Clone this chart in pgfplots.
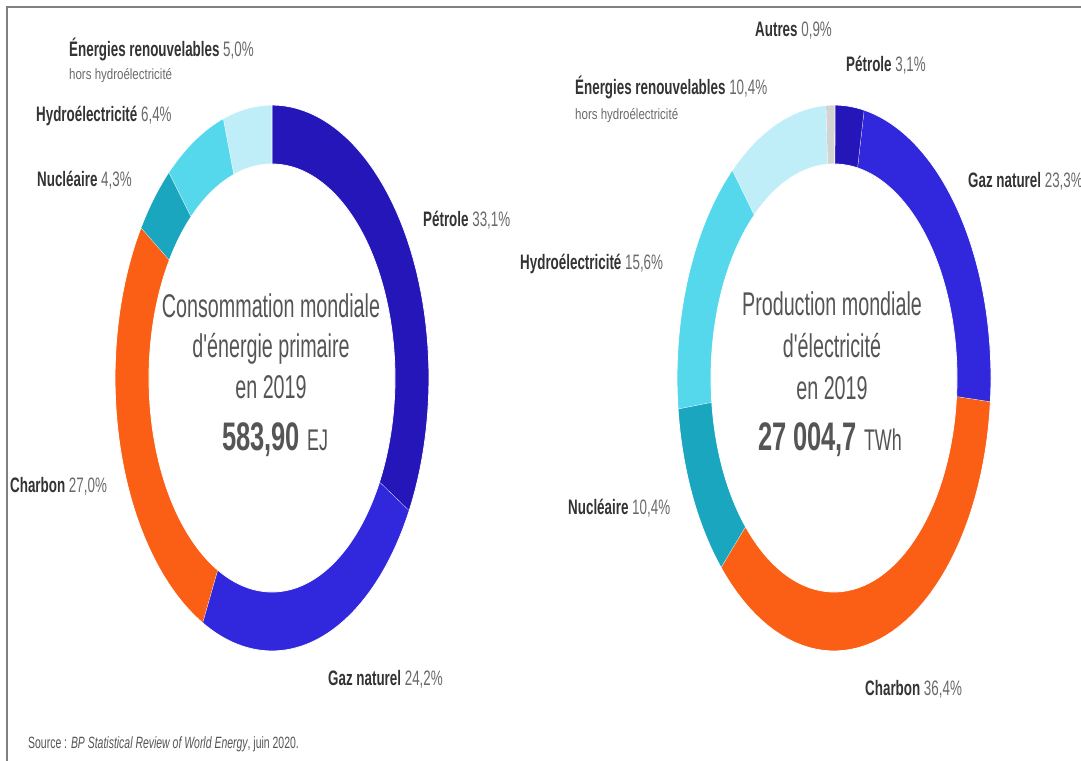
\documentclass[border=0pt]{standalone}
\usepackage{pgfplots}
\pgfplotsset{compat=1.18}
\usepackage{fontspec}
\setmainfont{Liberation Sans}[FakeStretch=0.64]
\newfontfamily\ctrfont{Liberation Sans}[FakeStretch=0.6]
\newfontfamily\smallfont{Liberation Sans}[FakeStretch=0.77]

\definecolor{cPet}{HTML}{2416B8}
\definecolor{cGaz}{HTML}{3127DD}
\definecolor{cCha}{HTML}{FA5F15}
\definecolor{cNuc}{HTML}{1BA6BF}
\definecolor{cHyd}{HTML}{55D8EC}
\definecolor{cRen}{HTML}{BFEEF8}
\definecolor{cAut}{HTML}{D3D3D3}
\definecolor{tName}{HTML}{333333}
\definecolor{tVal}{HTML}{6A6A6A}
\definecolor{tCtr}{HTML}{555555}
\definecolor{frame}{HTML}{808080}

% ring segment: centre x, centre y, cumulative start (%), share (%), colour
\newcommand\seg[5]{%
\addplot[fill=#5, draw=white, line width=0.8pt, line join=round,
  samples at={0,1,...,101}, variable=\t]
 ({#1 + (\t<50.5 ? 157 : 123)*sin(3.6*(#3 + #4*(\t<50.5 ? \t/50 : (101-\t)/50)))},
  {#2 - (\t<50.5 ? 273 : 214)*cos(3.6*(#3 + #4*(\t<50.5 ? \t/50 : (101-\t)/50)))});
}
\newcommand\lab[4]{\node[anchor=base west, inner sep=0pt,
  font=\fontsize{21}{21}\selectfont] at (axis cs:#1,#2)
  {\textbf{\color{tName}#3} {\color{tVal}#4}};}
\newcommand\sub[2]{\node[anchor=base west, inner sep=0pt,
  font=\smallfont\fontsize{15}{15}\selectfont, text=tVal] at (axis cs:#1,#2)
  {hors hydroélectricité};}
\newcommand\ctr[3]{\node[anchor=base, inner sep=0pt,
  font=\ctrfont\fontsize{33}{33}\selectfont, text=tCtr] at (axis cs:#1,#2) {#3};}

\begin{document}
\begin{tikzpicture}
\begin{axis}[
  width=1081bp, height=761bp, scale only axis,
  xmin=0, xmax=1081, ymin=0, ymax=761, y dir=reverse,
  hide axis, clip=false]

% Consommation mondiale d'énergie primaire 2019 (%)
\seg{272}{378}{0}{33.1}{cPet}
\seg{272}{378}{33.1}{24.2}{cGaz}
\seg{272}{378}{57.3}{27.0}{cCha}
\seg{272}{378}{84.3}{4.3}{cNuc}
\seg{272}{378}{88.6}{6.4}{cHyd}
\seg{272}{378}{95.0}{5.0}{cRen}

% Production mondiale d'électricité 2019 (%)
\seg{834}{378}{0}{3.1}{cPet}
\seg{834}{378}{3.1}{23.3}{cGaz}
\seg{834}{378}{26.4}{36.4}{cCha}
\seg{834}{378}{62.8}{10.4}{cNuc}
\seg{834}{378}{73.2}{15.6}{cHyd}
\seg{834}{378}{88.8}{10.4}{cRen}
\seg{834}{378}{99.2}{0.9}{cAut}

% labels left
\lab{69}{57}{Énergies renouvelables}{5,0\%}
\sub{69}{80}
\lab{36}{122}{Hydroélectricité}{6,4\%}
\lab{37}{187}{Nucléaire}{4,3\%}
\lab{423}{226}{Pétrole}{33,1\%}
\lab{10}{492}{Charbon}{27,0\%}
\lab{328}{685}{Gaz naturel}{24,2\%}

% labels right
\lab{755}{37}{Autres}{0,9\%}
\lab{846}{72}{Pétrole}{3,1\%}
\lab{575}{95}{Énergies renouvelables}{10,4\%}
\sub{575}{120}
\lab{968}{188}{Gaz naturel}{23,3\%}
\lab{520}{269}{Hydroélectricité}{15,6\%}
\lab{568}{514}{Nucléaire}{10,4\%}
\lab{865}{695}{Charbon}{36,4\%}

% centre texts
\ctr{271}{317}{Consommation mondiale}
\ctr{271}{357}{d'énergie primaire}
\ctr{271}{398}{en 2019}
\node[anchor=base, inner sep=0pt, text=tCtr] at (axis cs:275,450)
  {{\fontsize{40}{40}\selectfont\bfseries 583,90}\hspace{7bp}{\ctrfont\fontsize{30}{30}\selectfont EJ}};
\ctr{832}{315}{Production mondiale}
\ctr{832}{357}{d'électricité}
\ctr{832}{399}{en 2019}
\node[anchor=base, inner sep=0pt, text=tCtr] at (axis cs:830,450)
  {{\fontsize{40}{40}\selectfont\bfseries 27\,004,7}\hspace{7bp}{\ctrfont\fontsize{30}{30}\selectfont TWh}};

% source
\node[anchor=base west, inner sep=0pt, text=tCtr,
  font=\fontsize{16.4}{16.4}\selectfont] at (axis cs:28,748)
  {Source : \textit{BP Statistical Review of World Energy}, juin 2020.};

% frame
\draw[frame, line width=2.2bp] (axis cs:1081,7) -- (axis cs:7,7) -- (axis cs:7,761);
\end{axis}
\pgfresetboundingbox
\path[use as bounding box] (current axis.south west) rectangle (current axis.north east);
\end{tikzpicture}
\end{document}
